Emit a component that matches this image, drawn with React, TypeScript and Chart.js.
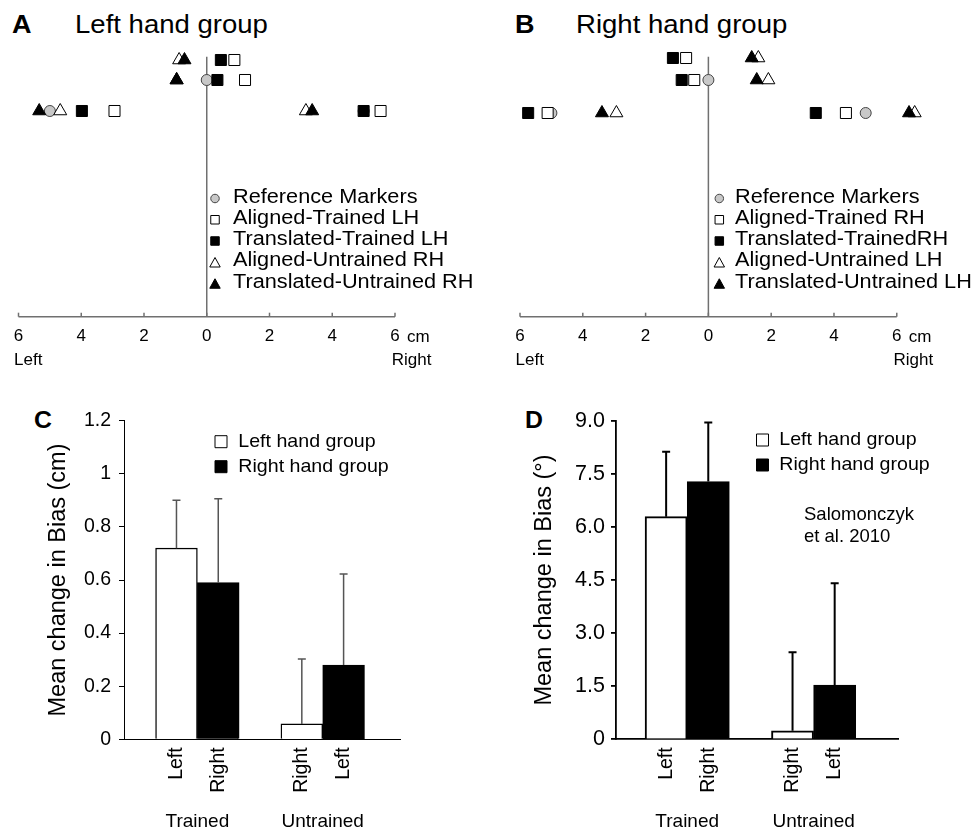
import React, { useEffect, useRef } from 'react';
import { Chart, registerables } from 'chart.js';

Chart.register(...registerables);

const FONT = "'Liberation Sans', Arial, Helvetica, sans-serif";
Chart.defaults.font.family = FONT;
Chart.defaults.color = '#000';

// ---------------- Panels A / B : marker positions (cm, negative = left) ----------------
// each point: [x position in cm, row index]
type Pt = [number, number];

const rowLevelsA = [25.67, 23.67, 20.57];
const rowLevelsB = [25.87, 23.67, 20.37];
const midlineTop = 26;
const axisTicksCm = [-6, -4, -2, 0, 2, 4, 6];

const legendLabelsA = ['Reference Markers', 'Aligned-Trained LH', 'Translated-Trained LH', 'Aligned-Untrained RH', 'Translated-Untrained RH'];
const legendLabelsB = ['Reference Markers', 'Aligned-Trained RH', 'Translated-TrainedRH', 'Aligned-Untrained LH', 'Translated-Untrained LH'];

const referenceA: Pt[] = [[0, 1], [-5, 2], [5, 2]];
const alignedTrainedA: Pt[] = [[0.88, 0], [1.22, 1], [-2.94, 2], [5.54, 2]];
const translatedTrainedA: Pt[] = [[0.45, 0], [0.34, 1], [-3.98, 2], [5.0, 2]];
const alignedUntrainedA: Pt[] = [[-0.88, 0], [-0.96, 1], [-4.67, 2], [3.16, 2]];
const translatedUntrainedA: Pt[] = [[-0.71, 0], [-0.96, 1], [-5.34, 2], [3.36, 2]];

const referenceB: Pt[] = [[0, 1], [-5, 2], [5.01, 2]];
const alignedTrainedB: Pt[] = [[-0.71, 0], [-0.45, 1], [-5.12, 2], [4.38, 2]];
const translatedTrainedB: Pt[] = [[-1.13, 0], [-0.85, 1], [-5.74, 2], [3.42, 2]];
const alignedUntrainedB: Pt[] = [[1.59, 0], [1.91, 1], [-2.93, 2], [6.57, 2]];
const translatedUntrainedB: Pt[] = [[1.38, 0], [1.54, 1], [-3.39, 2], [6.39, 2]];

const sideLabels = ['Left', 'Right'];
const unitLabel = 'cm';

// ---------------- Panels C / D : bars ----------------
const barCategoryLabels = ['Left', 'Right', 'Right', 'Left'];
const barPositions = [0, 1, 3, 4];
const leftGroupPositions = [0, 3];
const rightGroupPositions = [1, 4];
const groupLabels = ['Trained', 'Untrained'];
const groupCenters = [0.5, 3.5];
const barLegendLabels = ['Left hand group', 'Right hand group'];

const biasCmLeftGroup = [0.72, 0.058];
const biasCmRightGroup = [0.59, 0.28];
const errTopCmLeftGroup = [0.9, 0.302];
const errTopCmRightGroup = [0.906, 0.623];

const biasDegLeftGroup = [6.29, 0.24];
const biasDegRightGroup = [7.28, 1.53];
const errTopDegLeftGroup = [8.12, 2.46];
const errTopDegRightGroup = [8.95, 4.41];

const citationLines = ['Salomonczyk', 'et al. 2010'];

// ---------------- styles ----------------
const AXIS_GRAY = '#707070';
const TEXT_STRETCH = 1.08;
const markerStyles = [
  { shape: 'circle', radius: 5.5, fill: '#c8c8c8', stroke: '#444', order: 5, legendSize: 8.5 },
  { shape: 'rect', radius: 7.8, fill: '#fff', stroke: '#000', order: 4, legendSize: 8.5 },
  { shape: 'rect', radius: 7.8, fill: '#000', stroke: '#000', order: 2, legendSize: 8.5 },
  { shape: 'triangle', radius: 7.5, fill: '#fff', stroke: '#000', order: 3, legendSize: 9.5 },
  { shape: 'triangle', radius: 7.5, fill: '#000', stroke: '#000', order: 1, legendSize: 9.5 },
];

function stretchedText(ctx: CanvasRenderingContext2D, text: string, x: number, y: number, sx: number) {
  ctx.save();
  ctx.translate(x, y);
  ctx.scale(sx, 1);
  ctx.fillText(text, 0, 0);
  ctx.restore();
}

function drawMarker(ctx: CanvasRenderingContext2D, shape: string, x: number, y: number, s: number, fill: string, stroke: string) {
  ctx.beginPath();
  if (shape === 'circle') {
    ctx.arc(x, y, s / 2, 0, Math.PI * 2);
  } else if (shape === 'rect') {
    ctx.rect(x - s / 2, y - s / 2, s, s);
  } else {
    const w = s * 1.1;
    ctx.moveTo(x, y - s / 2);
    ctx.lineTo(x + w / 2, y + s / 2);
    ctx.lineTo(x - w / 2, y + s / 2);
    ctx.closePath();
  }
  ctx.fillStyle = fill;
  ctx.fill();
  ctx.lineWidth = 1;
  ctx.strokeStyle = stroke;
  ctx.stroke();
}

function scatterConfig(p: {
  rows: number[];
  labels: string[];
  series: Pt[][];
  padL: number;
  padR: number;
  legendX: number;
  legendTextX: number;
  legendY: number;
}) {
  const datasets: any[] = p.series.map((pts, i) => ({
    label: p.labels[i],
    data: pts.map(([x, r]) => ({ x, y: p.rows[r] })),
    pointStyle: markerStyles[i].shape,
    pointRadius: markerStyles[i].radius,
    pointBackgroundColor: markerStyles[i].fill,
    pointBorderColor: markerStyles[i].stroke,
    pointBorderWidth: 1,
    order: markerStyles[i].order,
    clip: false,
  }));
  datasets.push({
    label: 'midline',
    data: [{ x: 0, y: 0 }, { x: 0, y: midlineTop }],
    showLine: true,
    borderColor: AXIS_GRAY,
    borderWidth: 1.5,
    pointRadius: 0,
    order: 6,
    clip: false,
  });
  datasets.push({
    label: 'baseline',
    data: [{ x: axisTicksCm[0], y: 0 }, { x: axisTicksCm[axisTicksCm.length - 1], y: 0 }],
    showLine: true,
    borderColor: AXIS_GRAY,
    borderWidth: 1.5,
    pointRadius: 0,
    order: 7,
    clip: false,
  });

  const first = axisTicksCm[0];
  const last = axisTicksCm[axisTicksCm.length - 1];

  const decor = {
    id: 'scatterDecor',
    afterDraw(chart: any) {
      const { ctx, chartArea } = chart;
      const xs = chart.scales.x;
      ctx.save();
      ctx.strokeStyle = AXIS_GRAY;
      ctx.lineWidth = 1.5;
      xs.ticks.forEach((t: any) => {
        const px = xs.getPixelForValue(t.value);
        ctx.beginPath();
        ctx.moveTo(px, chartArea.bottom);
        ctx.lineTo(px, chartArea.bottom - 4);
        ctx.stroke();
      });
      ctx.fillStyle = '#000';
      ctx.font = `17px ${FONT}`;
      ctx.textAlign = 'left';
      ctx.textBaseline = 'alphabetic';
      ctx.fillText(sideLabels[0], xs.getPixelForValue(first) - 4.5, chartArea.bottom + 48.3);
      ctx.fillText(sideLabels[1], xs.getPixelForValue(last) - 3.3, chartArea.bottom + 48.3);
      ctx.fillText(unitLabel, xs.getPixelForValue(last) + 12, chartArea.bottom + 25);
      // legend
      ctx.font = `20px ${FONT}`;
      ctx.textBaseline = 'middle';
      p.labels.forEach((lab, i) => {
        const y = p.legendY + i * 21.25;
        const st = markerStyles[i];
        drawMarker(ctx, st.shape, p.legendX, y + 1.5, st.legendSize, st.fill, st.stroke);
        ctx.fillStyle = '#000';
        stretchedText(ctx, lab, p.legendTextX, y, 1.085);
      });
      ctx.restore();
    },
  };

  return {
    type: 'scatter' as const,
    data: { datasets },
    options: {
      responsive: false,
      animation: false as const,
      events: [],
      devicePixelRatio: 1,
      layout: { padding: { left: p.padL, right: p.padR, top: 56.7, bottom: 0 } },
      plugins: { legend: { display: false }, tooltip: { enabled: false } },
      scales: {
        x: {
          type: 'linear' as const,
          min: -6,
          max: 6.8,
          afterBuildTicks: (s: any) => {
            s.ticks = axisTicksCm.map((v) => ({ value: v }));
          },
          ticks: {
            autoSkip: false,
            maxRotation: 0,
            padding: 9,
            color: '#000',
            font: { size: 17 },
            callback: (v: any) => String(Math.abs(Number(v))),
          },
          grid: { display: false, drawTicks: false },
          border: { display: false },
          afterFit: (s: any) => {
            s.height = 83.3;
          },
        },
        y: { type: 'linear' as const, min: 0, max: midlineTop, display: false },
      },
    },
    plugins: [decor],
  };
}

function barConfig(p: {
  left: number[];
  right: number[];
  errLeft: number[];
  errRight: number[];
  yMax: number;
  yStep: number;
  yTickSize: number;
  yTickPad: number;
  fmt: (v: number) => string;
  yTitle: string;
  titlePad: number;
  yWidth: number;
  padR: number;
  xMin: number;
  xMax: number;
  axisW: number;
  barBorder: number;
  errColor: string;
  errWidth: number;
  legendX: number;
  legendTextX: number;
  legendY: number[];
  citation?: { x: number; y: number[] };
}) {
  const decor = {
    id: 'barDecor',
    afterDatasetsDraw(chart: any) {
      const { ctx } = chart;
      const ys = chart.scales.y;
      ctx.save();
      ctx.strokeStyle = p.errColor;
      ctx.lineWidth = p.errWidth;
      chart.data.datasets.forEach((ds: any, di: number) => {
        const meta = chart.getDatasetMeta(di);
        meta.data.forEach((el: any, j: number) => {
          const top = ys.getPixelForValue(ds.errorTop[j]);
          ctx.beginPath();
          ctx.moveTo(el.x, el.y);
          ctx.lineTo(el.x, top);
          ctx.moveTo(el.x - 4, top);
          ctx.lineTo(el.x + 4, top);
          ctx.stroke();
        });
      });
      ctx.restore();
    },
    afterDraw(chart: any) {
      const { ctx } = chart;
      const xs = chart.scales.x;
      ctx.save();
      ctx.fillStyle = '#000';
      ctx.textBaseline = 'middle';
      ctx.textAlign = 'center';
      ctx.font = `19px ${FONT}`;
      groupLabels.forEach((g, i) => {
        ctx.fillText(g, xs.getPixelForValue(groupCenters[i]), 421.7);
      });
      ctx.textAlign = 'left';
      ctx.font = `18.5px ${FONT}`;
      chart.data.datasets.forEach((ds: any, i: number) => {
        const y = p.legendY[i];
        ctx.beginPath();
        ctx.rect(p.legendX - 6, y - 6, 12, 12);
        ctx.fillStyle = ds.backgroundColor;
        ctx.fill();
        ctx.lineWidth = 1;
        ctx.strokeStyle = '#000';
        ctx.stroke();
        ctx.fillStyle = '#000';
        stretchedText(ctx, ds.label, p.legendTextX, y, 1.06);
      });
      if (p.citation) {
        ctx.font = `18.5px ${FONT}`;
        citationLines.forEach((line, i) => ctx.fillText(line, p.citation!.x, p.citation!.y[i]));
      }
      ctx.restore();
    },
  };

  const common = { grouped: false, barPercentage: 1, categoryPercentage: 1, borderColor: '#000', borderWidth: p.barBorder };
  return {
    type: 'bar' as const,
    data: {
      datasets: [
        {
          ...common,
          label: barLegendLabels[0],
          data: leftGroupPositions.map((x, i) => ({ x, y: p.left[i] })),
          errorTop: p.errLeft,
          backgroundColor: '#fff',
        },
        {
          ...common,
          label: barLegendLabels[1],
          data: rightGroupPositions.map((x, i) => ({ x, y: p.right[i] })),
          errorTop: p.errRight,
          backgroundColor: '#000',
        },
      ],
    },
    options: {
      responsive: false,
      animation: false as const,
      events: [],
      devicePixelRatio: 1,
      layout: { padding: { left: 0, right: p.padR, top: 20.7, bottom: 0 } },
      plugins: { legend: { display: false }, tooltip: { enabled: false } },
      scales: {
        x: {
          type: 'linear' as const,
          bounds: 'data' as const,
          offset: false,
          min: p.xMin,
          max: p.xMax,
          afterBuildTicks: (s: any) => {
            s.ticks = barPositions.map((v) => ({ value: v }));
          },
          ticks: {
            autoSkip: false,
            minRotation: 90,
            maxRotation: 90,
            padding: 8,
            color: '#000',
            font: { size: 19.5 },
            callback: (v: any) => barCategoryLabels[barPositions.indexOf(Number(v))] ?? '',
          },
          grid: { display: false, drawTicks: false, offset: false },
          border: { color: '#000', width: p.axisW },
          afterFit: (s: any) => {
            s.height = 92.7;
          },
        },
        y: {
          type: 'linear' as const,
          min: 0,
          max: p.yMax,
          ticks: {
            stepSize: p.yStep,
            padding: p.yTickPad,
            color: '#000',
            font: { size: p.yTickSize },
            callback: (v: any) => p.fmt(Number(v)),
          },
          grid: { drawOnChartArea: false, color: '#000', tickColor: '#000', tickLength: 5, lineWidth: p.axisW },
          border: { color: '#000', width: p.axisW },
          title: {
            display: true,
            text: p.yTitle,
            color: '#000',
            font: { size: 23.5 },
            padding: { top: p.titlePad, bottom: 0 },
          },
          afterFit: (s: any) => {
            s.width = p.yWidth;
          },
        },
      },
    },
    plugins: [decor],
  };
}

function ChartCanvas(props: { make: () => any; left: number; top: number; width: number; height: number }) {
  const ref = useRef<HTMLCanvasElement>(null);
  useEffect(() => {
    const chart = new Chart(ref.current as HTMLCanvasElement, props.make());
    return () => chart.destroy();
  }, []);
  return (
    <canvas
      ref={ref}
      width={props.width}
      height={props.height}
      style={{ position: 'absolute', left: props.left, top: props.top, width: props.width, height: props.height }}
    />
  );
}

const textStyle = (left: number, top: number, size: number, bold = false): React.CSSProperties => ({
  position: 'absolute',
  left,
  top,
  fontSize: size,
  lineHeight: 1,
  fontWeight: bold ? 700 : 400,
  fontFamily: FONT,
  whiteSpace: 'nowrap',
  color: '#000',
  transform: `scaleX(${TEXT_STRETCH})`,
  transformOrigin: 'left top',
});

export default function App() {
  return (
    <div style={{ position: 'absolute', left: 0, top: 0, width: 975, height: 832, background: '#fff', overflow: 'hidden' }}>
      <div style={textStyle(12, 11.7, 25, true)}>A</div>
      <div style={textStyle(75.3, 11.7, 25.5)}>Left hand group</div>
      <div style={textStyle(515, 11.7, 25, true)}>B</div>
      <div style={textStyle(576.3, 11.7, 25.5)}>Right hand group</div>
      <div style={textStyle(34, 409, 23, true)}>C</div>
      <div style={textStyle(525, 409, 23, true)}>D</div>

      <ChartCanvas
        left={0}
        top={0}
        width={487}
        height={400}
        make={() =>
          scatterConfig({
            rows: rowLevelsA,
            labels: legendLabelsA,
            series: [referenceA, alignedTrainedA, translatedTrainedA, alignedUntrainedA, translatedUntrainedA],
            padL: 18.5,
            padR: 66.9,
            legendX: 215,
            legendTextX: 233,
            legendY: 197,
          })
        }
      />
      <ChartCanvas
        left={488}
        top={0}
        width={487}
        height={400}
        make={() =>
          scatterConfig({
            rows: rowLevelsB,
            labels: legendLabelsB,
            series: [referenceB, alignedTrainedB, translatedTrainedB, alignedUntrainedB, translatedUntrainedB],
            padL: 32,
            padR: 53.1,
            legendX: 719.3 - 488,
            legendTextX: 735 - 488,
            legendY: 197,
          })
        }
      />
      <ChartCanvas
        left={0}
        top={400}
        width={487}
        height={432}
        make={() =>
          barConfig({
            left: biasCmLeftGroup,
            right: biasCmRightGroup,
            errLeft: errTopCmLeftGroup,
            errRight: errTopCmRightGroup,
            yMax: 1.2,
            yStep: 0.2,
            yTickSize: 19.5,
            yTickPad: 8,
            fmt: (v) => String(Number(v.toFixed(1))),
            yTitle: 'Mean change in Bias (cm)',
            titlePad: 44.2,
            yWidth: 124,
            padR: 87,
            xMin: -1.256,
            xMax: 5.35,
            axisW: 1,
            barBorder: 1.4,
            errColor: '#555',
            errWidth: 1.5,
            legendX: 221,
            legendTextX: 238.3,
            legendY: [41.7, 66.7],
          })
        }
      />
      <ChartCanvas
        left={490}
        top={400}
        width={485}
        height={432}
        make={() =>
          barConfig({
            left: biasDegLeftGroup,
            right: biasDegRightGroup,
            errLeft: errTopDegLeftGroup,
            errRight: errTopDegRightGroup,
            yMax: 9,
            yStep: 1.5,
            yTickSize: 21.5,
            yTickPad: 6,
            fmt: (v) => (v === 0 ? '0' : v.toFixed(1)),
            yTitle: 'Mean change in Bias (°)',
            titlePad: 40.9,
            yWidth: 126,
            padR: 76.7,
            xMin: -1.19,
            xMax: 5.51,
            axisW: 1.8,
            barBorder: 2,
            errColor: '#000',
            errWidth: 2,
            legendX: 272.5,
            legendTextX: 289.3,
            legendY: [40, 65],
            citation: { x: 314, y: [115, 136.7] },
          })
        }
      />
    </div>
  );
}
